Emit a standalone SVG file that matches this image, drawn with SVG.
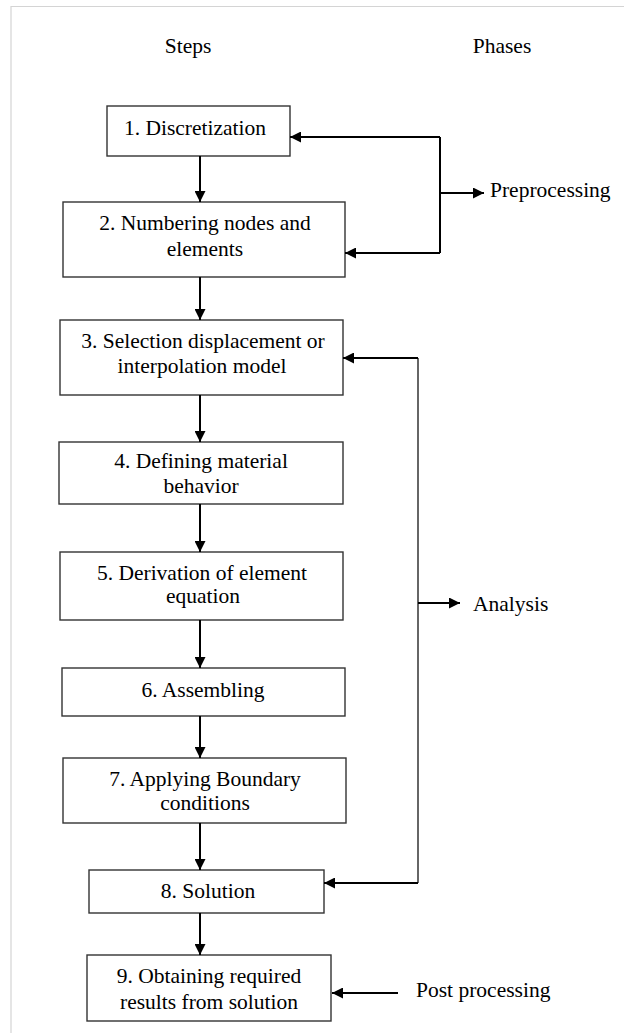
<svg xmlns="http://www.w3.org/2000/svg" width="624" height="1033" viewBox="0 0 624 1033">
<style>
.box{fill:#fff;stroke:#333;stroke-width:1.4}
.t{font-family:"Liberation Serif","Times New Roman",serif;font-size:21.5px;fill:#000;text-anchor:middle}
.tl{font-family:"Liberation Serif","Times New Roman",serif;font-size:21.5px;fill:#000}
.c{fill:none;stroke:#000;stroke-width:2}
.g{fill:none;stroke:#666;stroke-width:2}
</style>
<defs>
<marker id="ah" viewBox="0 0 11 11" refX="11" refY="5.5" markerWidth="11" markerHeight="11" markerUnits="userSpaceOnUse" orient="auto">
<path d="M0,0 L11,5.5 L0,11 z" fill="#000"/>
</marker>
</defs>
<rect x="0" y="0" width="624" height="1033" fill="#fff"/>
<path d="M11,1033 V6.5 H624" fill="none" stroke="#d4d4d4" stroke-width="1.2"/>
<g id="headers">
<text class="t" x="188" y="53">Steps</text>
<text class="t" x="502" y="53">Phases</text>
</g>
<g id="n1"><rect class="box" x="107" y="106" width="183" height="50"/><text class="t" x="195" y="135">1. Discretization</text></g>
<g id="n2"><rect class="box" x="63" y="202" width="282" height="75"/><text class="t" x="205" y="230">2. Numbering nodes and</text><text class="t" x="205" y="256">elements</text></g>
<g id="n3"><rect class="box" x="60" y="320" width="283" height="75"/><text class="t" x="203" y="348">3. Selection displacement or</text><text class="t" x="202" y="373">interpolation model</text></g>
<g id="n4"><rect class="box" x="59" y="442" width="284" height="62"/><text class="t" x="201" y="468">4. Defining material</text><text class="t" x="201" y="493">behavior</text></g>
<g id="n5"><rect class="box" x="60" y="552" width="283" height="68"/><text class="t" x="202" y="580">5. Derivation of element</text><text class="t" x="203" y="603">equation</text></g>
<g id="n6"><rect class="box" x="62" y="668" width="283" height="48"/><text class="t" x="203" y="697">6. Assembling</text></g>
<g id="n7"><rect class="box" x="63" y="758" width="283" height="65"/><text class="t" x="205" y="786">7. Applying Boundary</text><text class="t" x="205" y="810">conditions</text></g>
<g id="n8"><rect class="box" x="89" y="870" width="235" height="43"/><text class="t" x="208" y="898">8. Solution</text></g>
<g id="n9"><rect class="box" x="87" y="955" width="244" height="66"/><text class="t" x="209" y="983">9. Obtaining required</text><text class="t" x="209" y="1009">results from solution</text></g>
<g id="phases">
<text class="tl" x="490" y="197">Preprocessing</text>
<text class="tl" x="473" y="611">Analysis</text>
<text class="tl" x="416" y="997">Post processing</text>
</g>
<g id="connectors">
<line class="c" x1="200" y1="156" x2="200" y2="202" marker-end="url(#ah)"/>
<line class="c" x1="200" y1="277" x2="200" y2="320" marker-end="url(#ah)"/>
<line class="c" x1="200" y1="395" x2="200" y2="442" marker-end="url(#ah)"/>
<line class="c" x1="200" y1="504" x2="200" y2="552" marker-end="url(#ah)"/>
<line class="c" x1="200" y1="620" x2="200" y2="668" marker-end="url(#ah)"/>
<line class="c" x1="200" y1="716" x2="200" y2="758" marker-end="url(#ah)"/>
<line class="c" x1="200" y1="823" x2="200" y2="870" marker-end="url(#ah)"/>
<line class="c" x1="200" y1="913" x2="200" y2="955" marker-end="url(#ah)"/>
<path class="c" d="M440,137 V253"/>
<line class="c" x1="440" y1="137" x2="290" y2="137" marker-end="url(#ah)"/>
<line class="c" x1="440" y1="253" x2="345" y2="253" marker-end="url(#ah)"/>
<line class="c" x1="440" y1="193" x2="484" y2="193" marker-end="url(#ah)"/>
<path class="g" d="M418,358 V883"/>
<line class="c" x1="418" y1="358" x2="343" y2="358" marker-end="url(#ah)"/>
<line class="c" x1="418" y1="883" x2="324" y2="883" marker-end="url(#ah)"/>
<line class="c" x1="418" y1="603" x2="460" y2="603" marker-end="url(#ah)"/>
<line class="c" x1="398" y1="993" x2="332" y2="993" marker-end="url(#ah)"/>
</g>
</svg>
